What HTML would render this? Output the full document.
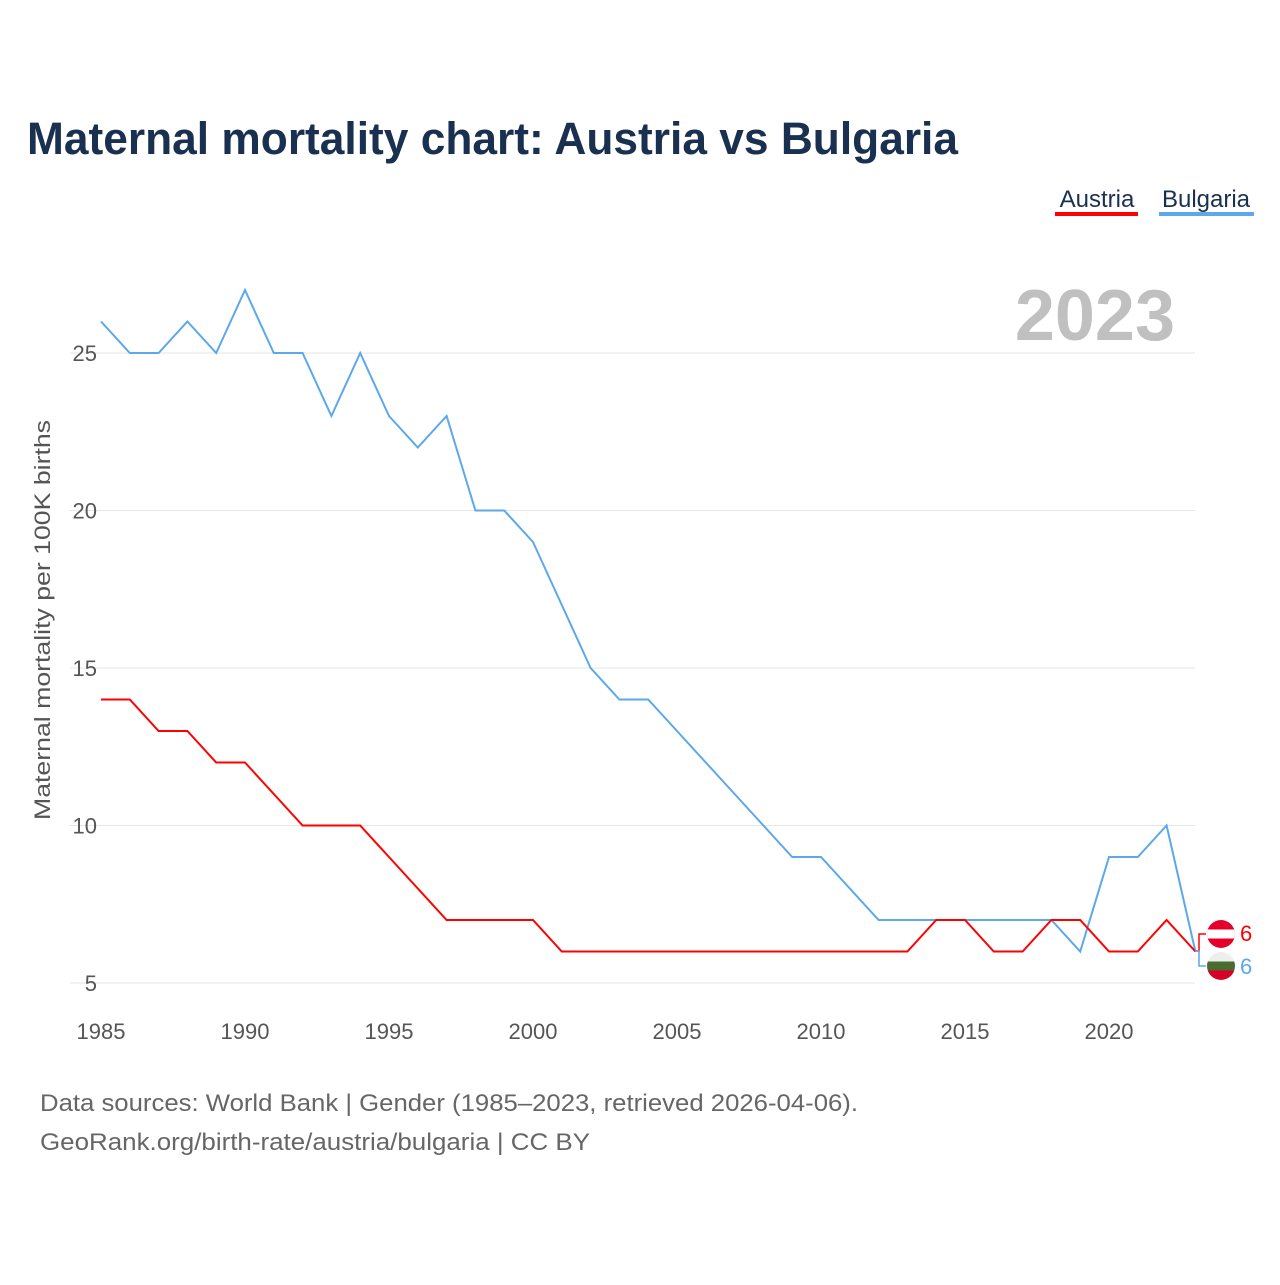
<!DOCTYPE html>
<html><head><meta charset="utf-8"><style>
body{margin:0;background:#fff;font-family:"Liberation Sans",sans-serif}
</style></head><body>
<svg width="1280" height="1280" xmlns="http://www.w3.org/2000/svg" font-family="Liberation Sans, sans-serif">
<text x="27" y="154" font-size="45" font-weight="bold" fill="#1a3050" textLength="931" lengthAdjust="spacingAndGlyphs">Maternal mortality chart: Austria vs Bulgaria</text>
<g><text x="1097" y="207" font-size="24" fill="#1a3050" text-anchor="middle">Austria</text><rect x="1055" y="212" width="83" height="4" fill="#ff0000"/></g>
<g><text x="1206" y="207" font-size="24" fill="#1a3050" text-anchor="middle">Bulgaria</text><rect x="1159" y="212" width="95" height="4" fill="#5ca8ea"/></g>
<text x="1175" y="340" font-size="72" font-weight="bold" fill="#c0c0c0" text-anchor="end">2023</text>
<g id="grid"></g><g id="lines"></g>
<text transform="translate(50,620) rotate(-90)" font-size="22" fill="#555" text-anchor="middle" textLength="400" lengthAdjust="spacingAndGlyphs">Maternal mortality per 100K births</text>
<g>
<path d="M1195,951 L1199,951 L1199,934 L1206,934" stroke="#ff0000" fill="none" stroke-width="1.5"/>
<path d="M1195,951 L1199,951 L1199,966 L1206,966" stroke="#5ca8ea" fill="none" stroke-width="1.5"/>
<defs><clipPath id="c1"><circle cx="1221" cy="934" r="14"/></clipPath><clipPath id="c2"><circle cx="1221" cy="966" r="14"/></clipPath></defs>
<g clip-path="url(#c1)"><rect x="1207" y="920" width="28" height="28" fill="#e4002b"/><rect x="1207" y="929.5" width="28" height="9" fill="#fff"/></g>
<g clip-path="url(#c2)"><rect x="1207" y="952" width="28" height="10" fill="#eee"/><rect x="1207" y="961.5" width="28" height="9" fill="#4a6b2f"/><rect x="1207" y="970.5" width="28" height="10" fill="#d80027"/></g>
<text x="1240" y="941" font-size="22" fill="#ff0000">6</text>
<text x="1240" y="974" font-size="22" fill="#5ca8ea">6</text>
</g>
<text x="40" y="1111" font-size="24" fill="#666" textLength="818" lengthAdjust="spacingAndGlyphs">Data sources: World Bank | Gender (1985–2023, retrieved 2026-04-06).</text>
<text x="40" y="1150" font-size="24" fill="#666" textLength="550" lengthAdjust="spacingAndGlyphs">GeoRank.org/birth-rate/austria/bulgaria | CC BY</text>
</svg>
<script>
const years=[1985,1986,1987,1988,1989,1990,1991,1992,1993,1994,1995,1996,1997,1998,1999,2000,2001,2002,2003,2004,2005,2006,2007,2008,2009,2010,2011,2012,2013,2014,2015,2016,2017,2018,2019,2020,2021,2022,2023];
const bulgaria=[26,25,25,26,25,27,25,25,23,25,23,22,23,20,20,19,17,15,14,14,13,12,11,10,9,9,8,7,7,7,7,7,7,7,6,9,9,10,6];
const austria=[14,14,13,13,12,12,11,10,10,10,9,8,7,7,7,7,6,6,6,6,6,6,6,6,6,6,6,6,6,7,7,6,6,7,7,6,6,7,6];
const yTicks=[5,10,15,20,25];
const xTicks=[1985,1990,1995,2000,2005,2010,2015,2020];
const NS='http://www.w3.org/2000/svg';
const x=v=>101+(v-1985)*28.8;
const y=v=>983-(v-5)*31.5;
const grid=document.getElementById('grid'),lines=document.getElementById('lines');
function mk(t,a,p){const e=document.createElementNS(NS,t);for(const k in a)e.setAttribute(k,a[k]);p.appendChild(e);return e;}
yTicks.forEach(t=>{
 const l=mk('line',{x1:70,x2:1195,y1:y(t),y2:y(t),stroke:'#e6e6e6','stroke-width':1},grid);
 
 
 const tx=mk('text',{x:97,y:y(t)+8,'font-size':22,fill:'#555','text-anchor':'end'},grid);tx.textContent=t;
 
 
});
xTicks.forEach(t=>{
 const tx=mk('text',{x:x(t),y:1039,'font-size':22,fill:'#555','text-anchor':'middle'},grid);tx.textContent=t;
 
 
});
function series(d,c,n){
 const p=mk('polyline',{points:d.map((v,i)=>x(years[i])+','+y(v)).join(' '),fill:'none',stroke:c,'stroke-width':2},lines);
 
 
}
series(bulgaria,'#5ca8ea','bulgaria-line');
series(austria,'#ff0000','austria-line');
</script>
</body></html>
